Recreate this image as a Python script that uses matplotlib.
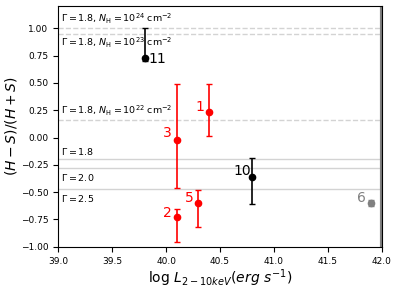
import numpy as np
import matplotlib.pyplot as plt

# dados
ids    = ["11", "3", "1", "2", "5", "10", "6"]
logL   = [39.8, 40.1, 40.4, 40.1, 40.3, 40.8, 41.9]
hr     = [0.73, -0.02, 0.23, -0.73, -0.60, -0.36, -0.60]
err_lo = [0.03, 0.44, 0.22, 0.23, 0.22, 0.25, 0.03]
err_hi = [0.27, 0.51, 0.26, 0.08, 0.12, 0.17, 0.03]
cores  = ["black", "red", "red", "red", "red", "black", "gray"]
# deslocamento do rotulo (pontos)
offs   = [(3, -1), (-10, 5), (-10, 4), (-10, 3), (-10, 4), (-14, 4), (-10, 4)]

# linhas de referencia
nh_vals   = [1.00, 0.95, 0.16]
nh_textos = [r"$\Gamma = 1.8$, $N_{\rm H} = 10^{24}$ cm$^{-2}$",
             r"$\Gamma = 1.8$, $N_{\rm H} = 10^{23}$ cm$^{-2}$",
             r"$\Gamma = 1.8$, $N_{\rm H} = 10^{22}$ cm$^{-2}$"]
nh_pos    = ["above", "below", "above"]
gam_vals  = [-0.20, -0.28, -0.47]
gam_textos = [r"$\Gamma = 1.8$", r"$\Gamma = 2.0$", r"$\Gamma = 2.5$"]
gam_pos   = ["above", "below", "below"]

fig, ax = plt.subplots(figsize=(3.99, 2.9), dpi=100)
fig.subplots_adjust(left=0.146, right=0.957, top=0.978, bottom=0.149)

for v, t, p in zip(nh_vals, nh_textos, nh_pos):
    ax.axhline(v, color="lightgray", ls="--", lw=1)
    dy = 0.02 if p == "above" else -0.02
    ax.text(39.03, v + dy, t, fontsize=6.8, va="bottom" if p == "above" else "top")

for v, t, p in zip(gam_vals, gam_textos, gam_pos):
    ax.axhline(v, color="lightgray", ls="-", lw=1)
    dy = 0.02 if p == "above" else -0.04
    ax.text(39.03, v + dy, t, fontsize=6.8, va="bottom" if p == "above" else "top")

ax.axvline(42, color="gray", lw=3)

for i in range(len(ids)):
    ax.errorbar(logL[i], hr[i], yerr=[[err_lo[i]], [err_hi[i]]], fmt="o",
                color=cores[i], ms=4.5, capsize=2.5, elinewidth=1.2)
    ax.annotate(ids[i], (logL[i], hr[i]), xytext=offs[i], textcoords="offset points",
                color=cores[i], fontsize=10, va="center")

ax.set_xlim(39, 42)
ax.set_ylim(-1, 1.2)
ax.set_yticks(np.arange(-1, 1.01, 0.25))
ax.tick_params(labelsize=6.5)
ax.set_xlabel(r"$\log\, L_{2-10keV}(erg\ s^{-1})$", fontsize=10, labelpad=1)
ax.set_ylabel(r"$(H-S)/(H+S)$", fontsize=10)
ax.yaxis.set_label_coords(-0.12, 0.5)

plt.savefig("out.png", dpi=100)
